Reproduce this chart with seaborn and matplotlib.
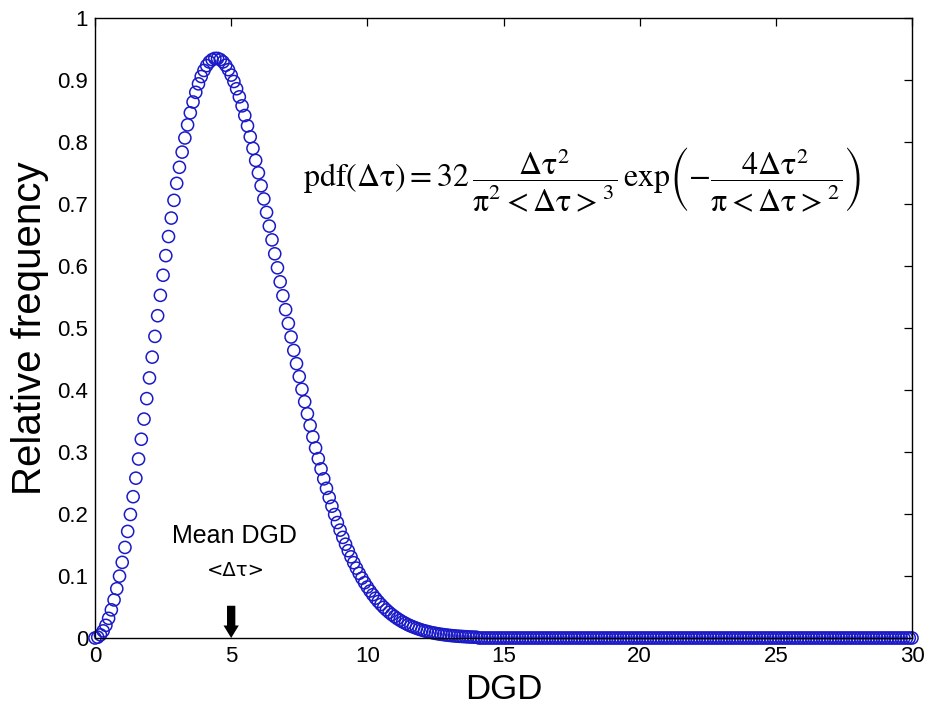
import numpy as np
import pandas as pd
import matplotlib
matplotlib.use("Agg")
import matplotlib.pyplot as plt
import seaborn as sns

# ---- data (DGD step 0.1, 0..30) ----
dgd_step = 0.1
freq_head = [
    0.0000, 0.0013, 0.0051, 0.0115, 0.0204, 0.0317, 0.0454, 0.0614, 0.0795, 0.0998,
    0.1220, 0.1461, 0.1719, 0.1992, 0.2279, 0.2578, 0.2887, 0.3206, 0.3531, 0.3861,
    0.4195, 0.4530, 0.4865, 0.5198, 0.5527, 0.5851, 0.6167, 0.6475, 0.6773, 0.7059,
    0.7333, 0.7592, 0.7837, 0.8065, 0.8276, 0.8470, 0.8645, 0.8801, 0.8938, 0.9056,
    0.9154, 0.9232, 0.9290, 0.9328, 0.9348, 0.9348, 0.9329, 0.9292, 0.9238, 0.9167,
    0.9079, 0.8976, 0.8859, 0.8728, 0.8583, 0.8427, 0.8260, 0.8083, 0.7897, 0.7703,
    0.7502, 0.7294, 0.7081, 0.6865, 0.6644, 0.6421, 0.6197, 0.5971, 0.5745, 0.5520,
    0.5296, 0.5074, 0.4855, 0.4638, 0.4425, 0.4216, 0.4011, 0.3811, 0.3616, 0.3427,
    0.3243, 0.3065, 0.2893, 0.2727, 0.2567, 0.2414, 0.2266, 0.2126, 0.1991, 0.1862,
    0.1740, 0.1623, 0.1513, 0.1408, 0.1309, 0.1215, 0.1127, 0.1043, 0.0965, 0.0892,
    0.0823, 0.0758, 0.0698, 0.0642, 0.0589, 0.0541, 0.0495, 0.0453, 0.0414, 0.0378,
    0.0345, 0.0314, 0.0286, 0.0259, 0.0236, 0.0213, 0.0193, 0.0175, 0.0158, 0.0142,
    0.0128, 0.0116, 0.0104, 0.0093, 0.0084, 0.0075, 0.0067, 0.0060, 0.0054, 0.0048,
    0.0043, 0.0038, 0.0034, 0.0030, 0.0027, 0.0024, 0.0021, 0.0018, 0.0016, 0.0014,
    0.0013,
]
freq_tail = [0.0] * 160          # DGD 14.1 .. 30.0, flat at zero
freq = freq_head + freq_tail
dgd = [round(i * dgd_step, 1) for i in range(len(freq))]

mean_dgd = 5
x_ticks = [0, 5, 10, 15, 20, 25, 30]
y_ticks = [0, 0.1, 0.2, 0.3, 0.4, 0.5, 0.6, 0.7, 0.8, 0.9, 1]
y_ticklabels = ["0", "0.1", "0.2", "0.3", "0.4", "0.5", "0.6", "0.7", "0.8", "0.9", "1"]

df = pd.DataFrame({"DGD": dgd, "freq": freq})

sns.set_style("white")
plt.rcParams["font.family"] = ["Liberation Sans", "DejaVu Sans"]
plt.rcParams["mathtext.fontset"] = "stix"
plt.rcParams["text.color"] = "black"

fig = plt.figure(figsize=(9.26, 7.08), dpi=100)
ax = fig.add_axes([95 / 926, 70 / 708, 817 / 926, 620 / 708])

blue = "#1a1ac8"
sns.scatterplot(data=df, x="DGD", y="freq", ax=ax, marker="o", s=76,
                facecolor="none", edgecolor=blue, linewidth=1.1, legend=False)
for coll in ax.collections:
    coll.set_clip_on(False)

ax.set_xlim(0, 30)
ax.set_ylim(0, 1)
ax.set_xticks(x_ticks)
ax.set_xticklabels([str(t) for t in x_ticks])
ax.set_yticks(y_ticks)
ax.set_yticklabels(y_ticklabels)
ax.tick_params(axis="both", direction="in", length=6, width=0.9, color="black",
               top=True, right=True, labelsize=16, labelcolor="black")
ax.tick_params(axis="x", pad=6)
ax.tick_params(axis="y", pad=5)
for sp in ax.spines.values():
    sp.set_visible(True)
    sp.set_color("black")
    sp.set_linewidth(1.0)

ax.set_xlabel("DGD", fontsize=25, labelpad=4, color="black")
ax.set_ylabel("Relative frequency", fontsize=29, labelpad=6, color="black")

# Mean DGD annotation with arrow
fig.text(234 / 926, 1 - 536 / 708, "Mean DGD", fontsize=18, ha="center", va="center",
         color="black")
fig.text(236 / 926, 1 - 571 / 708, "<Δτ>", fontsize=14, ha="center", va="center",
         family=["DejaVu Sans"], color="black")
ax.annotate("", xy=(mean_dgd, 0.0), xytext=(mean_dgd, 0.052),
            arrowprops=dict(arrowstyle="simple,head_length=0.9,head_width=1.1,tail_width=0.6",
                            color="black", lw=0, shrinkA=0, shrinkB=0))

formula = (r"$\mathrm{pdf}(\Delta\mathrm{\tau}) = 32\,"
           r"\dfrac{\Delta\mathrm{\tau}^2}{\mathrm{\pi}^2 < \Delta\mathrm{\tau} >^3}"
           r"\,\mathrm{exp}\left(-\dfrac{4\Delta\mathrm{\tau}^2}{\mathrm{\pi} < \Delta\mathrm{\tau} >^2}\right)$")
fig.text(582 / 926, 1 - 180 / 708, formula, fontsize=23, ha="center", va="center",
         color="black")

fig.savefig("out.png", dpi=100)
